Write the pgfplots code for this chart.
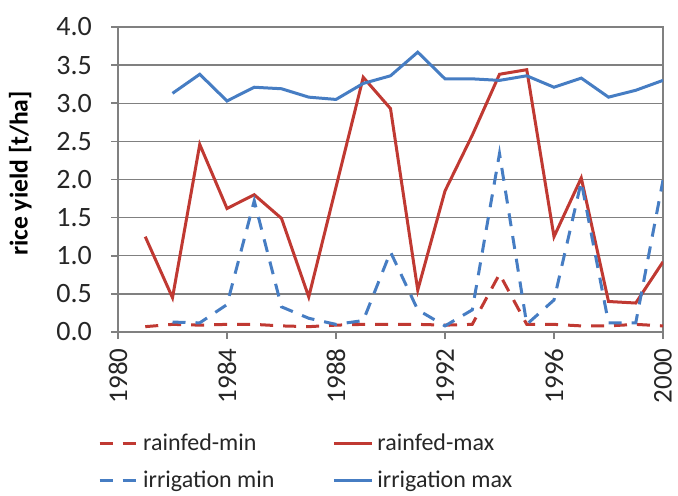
\documentclass[border=0pt]{standalone}
\usepackage{fontspec}
\setmainfont{Carlito}
\usepackage{pgfplots}
\pgfplotsset{compat=1.18}
\definecolor{exred}{RGB}{192,57,50}
\definecolor{exblue}{RGB}{70,125,195}
\definecolor{gridgray}{RGB}{128,128,128}
\begin{document}
\begin{tikzpicture}
\begin{axis}[
  name=ax,
  scale only axis,
  width=272.5pt, height=152.5pt,
  xmin=1980, xmax=2000, ymin=0, ymax=4,
  xtick={1980,1984,1988,1992,1996,2000},
  ytick={0,0.5,...,4},
  ymajorgrids,
  grid style={gridgray, line width=0.7pt},
  axis line style={gridgray, line width=1pt},
  tick style={gridgray, line width=0.8pt},
  tick align=outside, tick pos=left,
  major tick length=3.5pt,
  /pgf/number format/assume math mode=true,
  xticklabel style={/pgf/number format/set thousands separator={}, rotate=90, anchor=east, font=\fontsize{13.5}{15}\selectfont, inner sep=4.5pt, text=black!85},
  yticklabel style={/pgf/number format/.cd, fixed, fixed zerofill, precision=1, /tikz/.cd, font=\fontsize{14}{16}\selectfont, xshift=-6pt, text=black!85},
  ylabel={\bfseries rice yield [t/ha]},
  ylabel style={font=\fontsize{12.8}{15}\selectfont, yshift=5.5pt, xshift=3pt},
  legend columns=2,
  legend style={at={(-0.048,-0.305)}, anchor=north west, draw=none, fill=none,
    font=\fontsize{12}{14}\selectfont, row sep=5pt, text=black!85,
    /tikz/every even column/.append style={column sep=27pt}},
  legend cell align=left,
  legend image code/.code={\draw[#1] (0pt,0pt) -- (19pt,0pt);},
  every axis plot/.append style={line width=1.5pt},
]
\addplot[exred, dash pattern=on 6.5pt off 5pt] coordinates {
(1981,0.07) (1982,0.10) (1983,0.09) (1984,0.10) (1985,0.10) (1986,0.08) (1987,0.07) (1988,0.09) (1989,0.10) (1990,0.10) (1991,0.10) (1992,0.09) (1993,0.10) (1994,0.76) (1995,0.10) (1996,0.10) (1997,0.08) (1998,0.08) (1999,0.10) (2000,0.08)};
\addlegendentry{rainfed-min}
\addplot[exred] coordinates {
(1981,1.25) (1982,0.45) (1983,2.46) (1984,1.62) (1985,1.80) (1986,1.49) (1987,0.46) (1988,1.90) (1989,3.34) (1990,2.93) (1991,0.55) (1992,1.85) (1993,2.58) (1994,3.38) (1995,3.44) (1996,1.25) (1997,2.02) (1998,0.40) (1999,0.38) (2000,0.92)};
\addlegendentry{rainfed-max}
\addplot[exblue, dash pattern=on 6.5pt off 5pt] coordinates {
(1982,0.13) (1983,0.12) (1984,0.36) (1985,1.72) (1986,0.33) (1987,0.18) (1988,0.10) (1989,0.15) (1990,1.05) (1991,0.29) (1992,0.08) (1993,0.29) (1994,2.34) (1995,0.10) (1996,0.42) (1997,1.97) (1998,0.12) (1999,0.12) (2000,1.99)};
\addlegendentry{irrigation min}
\addplot[exblue] coordinates {
(1982,3.13) (1983,3.38) (1984,3.03) (1985,3.21) (1986,3.19) (1987,3.08) (1988,3.05) (1989,3.26) (1990,3.36) (1991,3.67) (1992,3.32) (1993,3.32) (1994,3.30) (1995,3.36) (1996,3.21) (1997,3.33) (1998,3.08) (1999,3.17) (2000,3.30)};
\addlegendentry{irrigation max}
\end{axis}
\pgfresetboundingbox
\path[use as bounding box] ([shift={(-59pt,-82pt)}]ax.south west) rectangle ([shift={(7.5pt,13.5pt)}]ax.north east);
\end{tikzpicture}
\end{document}
